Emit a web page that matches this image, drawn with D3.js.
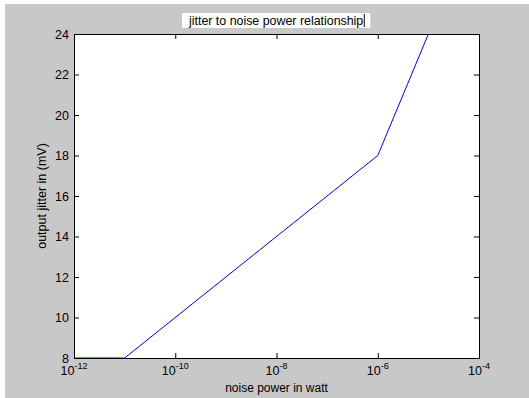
<!DOCTYPE html>
<html>
<head>
<meta charset="utf-8">
<script src="https://cdn.jsdelivr.net/npm/d3@7"></script>
<style>
  body { margin: 0; background: #fff; }
  text { font-family: "Liberation Sans", Arial, sans-serif; fill: #000; }
</style>
</head>
<body>
<div id="chart"></div>
<script>
// data
const noisePower = [1e-12, 1e-11, 1e-6, 1e-5];
const jitter = [8, 8, 18, 24];
const xTickExp = [-12, -10, -8, -6, -4];
const yTicks = [8, 10, 12, 14, 16, 18, 20, 22, 24];
const title = "jitter to noise power relationship";
const xLabel = "noise power in watt";
const yLabel = "output jitter in (mV)";

const W = 529, H = 398;
const margin = { top: 34, right: 50, bottom: 40, left: 74 };
const width = 479 - margin.left;
const height = 358 - margin.top;

const svg = d3.select("#chart").append("svg")
  .attr("width", W)
  .attr("height", H);

// grey figure background
svg.append("rect")
  .attr("x", 5).attr("y", 4)
  .attr("width", W - 5).attr("height", H - 4)
  .attr("fill", "#c8c8c8");

const g = svg.append("g")
  .attr("transform", "translate(" + margin.left + "," + margin.top + ")");

const x = d3.scaleLog().domain([1e-12, 1e-4]).range([0, width]);
const y = d3.scaleLinear().domain([8, 24]).range([height, 0]);

g.append("rect")
  .attr("width", width).attr("height", height)
  .attr("fill", "#fff");

g.append("clipPath").attr("id", "clip")
  .append("rect").attr("width", width).attr("height", height);

const line = d3.line()
  .x(d => x(d[0]))
  .y(d => y(d[1]));

g.append("path")
  .datum(noisePower.map((p, i) => [p, jitter[i]]))
  .attr("clip-path", "url(#clip)")
  .attr("d", line)
  .attr("fill", "none")
  .attr("stroke", "#0000ff")
  .attr("stroke-width", 1);

const xVals = xTickExp.map(e => Math.pow(10, e));

// ticks point inwards, on all four sides
const axBottom = g.append("g")
  .attr("transform", "translate(0," + height + ")")
  .call(d3.axisBottom(x).tickValues(xVals).tickSizeInner(-5).tickSizeOuter(0).tickFormat(""));
const axTop = g.append("g")
  .call(d3.axisTop(x).tickValues(xVals).tickSizeInner(-5).tickSizeOuter(0).tickFormat(""));
const axLeft = g.append("g")
  .call(d3.axisLeft(y).tickValues(yTicks).tickSizeInner(-5).tickSizeOuter(0).tickPadding(10));
const axRight = g.append("g")
  .attr("transform", "translate(" + width + ",0)")
  .call(d3.axisRight(y).tickValues(yTicks).tickSizeInner(-5).tickSizeOuter(0).tickFormat(""));

[axBottom, axTop, axLeft, axRight].forEach(a => {
  a.select(".domain").attr("stroke", "#000");
  a.selectAll(".tick line").attr("stroke", "#000");
  a.attr("font-size", null).attr("font-family", null);
});
axLeft.selectAll(".tick text")
  .attr("font-size", 12.5)
  .attr("x", -5);

// x tick labels as 10 with superscript exponent
xTickExp.forEach(e => {
  const t = g.append("text")
    .attr("x", x(Math.pow(10, e)))
    .attr("y", height + 17)
    .attr("text-anchor", "middle")
    .attr("font-size", 12.5);
  t.append("tspan").text("10");
  t.append("tspan").attr("dy", -6).attr("font-size", 9).text(String(e));
});

// axis labels
g.append("text")
  .attr("x", width / 2)
  .attr("y", height + 34)
  .attr("text-anchor", "middle")
  .attr("font-size", 12)
  .text(xLabel);

g.append("text")
  .attr("transform", "translate(-28," + (height / 2) + ") rotate(-90)")
  .attr("text-anchor", "middle")
  .attr("font-size", 12.5)
  .text(yLabel);

// title in its white edit box
const titleBox = svg.append("rect")
  .attr("fill", "#fff");
const titleText = svg.append("text")
  .attr("x", 189)
  .attr("y", 25)
  .attr("font-size", 12.4)
  .text(title);
const tw = titleText.node().getComputedTextLength();
titleBox.attr("x", 182).attr("y", 13).attr("width", tw + 14).attr("height", 15);
svg.append("line")
  .attr("x1", 189 + tw + 1).attr("x2", 189 + tw + 1)
  .attr("y1", 14).attr("y2", 27)
  .attr("stroke", "#000");
</script>
</body>
</html>
